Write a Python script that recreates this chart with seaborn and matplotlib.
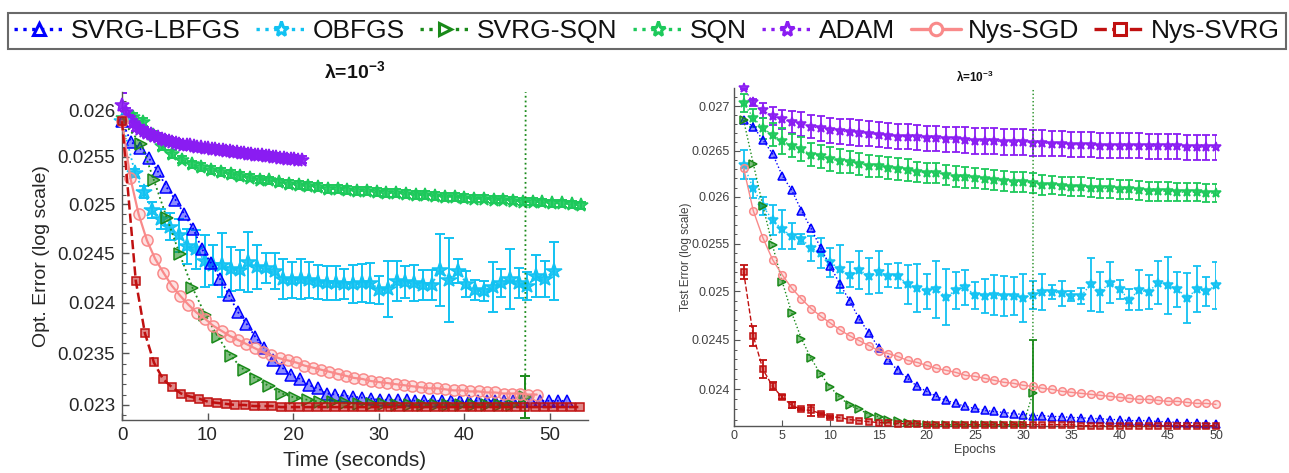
import numpy as np
import matplotlib
matplotlib.use("Agg")
import matplotlib.pyplot as plt
from matplotlib.lines import Line2D
from matplotlib.colors import to_rgba
from matplotlib.ticker import NullFormatter
import seaborn as sns

# ------------------------------------------------------------------ data
method_names = ["SVRG-LBFGS", "OBFGS", "SVRG-SQN", "SQN", "ADAM", "Nys-SGD", "Nys-SVRG"]

# Optimisation error vs wall-clock time (seconds)
adam_opt = [0.02605, 0.02598, 0.02591, 0.02586, 0.02582, 0.02580, 0.02578, 0.02575, 0.02574, 0.02572,
            0.02571, 0.02569, 0.02568, 0.02567, 0.02566, 0.02565, 0.02564, 0.02563, 0.02562, 0.02562,
            0.02561, 0.02560, 0.02560, 0.02559, 0.02559, 0.02558, 0.02558, 0.02557, 0.02557, 0.02556,
            0.02556, 0.02555, 0.02555, 0.02554, 0.02554, 0.02553, 0.02553, 0.02552, 0.02552, 0.02552,
            0.02551, 0.02551, 0.02550, 0.02550, 0.02549, 0.02549, 0.02548, 0.02548, 0.02548, 0.02547,
            0.02547]
adam_opt_err = [0.00013] + [0.00004] * 50

sqn_opt = [0.02591, 0.02593, 0.02587, 0.02573, 0.02561, 0.02553, 0.02547, 0.02542, 0.02539, 0.02536,
           0.02534, 0.02532, 0.02530, 0.02528, 0.02526, 0.02525, 0.02523, 0.02521, 0.02520, 0.02519,
           0.02518, 0.02516, 0.02516, 0.02515, 0.02514, 0.02514, 0.02513, 0.02512, 0.02512, 0.02511,
           0.02510, 0.02510, 0.02509, 0.02508, 0.02508, 0.02507, 0.02506, 0.02506, 0.02505, 0.02505,
           0.02504, 0.02503, 0.02503, 0.02502, 0.02501, 0.02501, 0.02500, 0.02499]
sqn_opt_err = [0.00004] * 48

lbfgs_opt = [0.02588, 0.02566, 0.02559, 0.02549, 0.02535, 0.02518, 0.02505, 0.02490, 0.02475, 0.02454,
             0.02440, 0.02424, 0.02408, 0.02391, 0.02379, 0.02366, 0.02355, 0.02343, 0.02336, 0.02329,
             0.02325, 0.02319, 0.02316, 0.02311, 0.02310, 0.02309, 0.02308, 0.02307, 0.02306, 0.02305,
             0.02305, 0.02305, 0.02305, 0.02304, 0.02304, 0.02304, 0.02304, 0.02304, 0.02304, 0.02304,
             0.02304, 0.02304, 0.02304, 0.02304, 0.02304, 0.02304, 0.02304, 0.02304, 0.02304, 0.02304,
             0.02304]

obfgs_opt = [0.02588, 0.02533, 0.02513, 0.02494, 0.02485, 0.02477, 0.02468, 0.02457, 0.02454, 0.02442,
             0.02438, 0.02438, 0.02434, 0.02433, 0.02441, 0.02436, 0.02435, 0.02432, 0.02424, 0.02423,
             0.02424, 0.02423, 0.02421, 0.02420, 0.02420, 0.02419, 0.02419, 0.02420, 0.02420, 0.02413,
             0.02414, 0.02422, 0.02421, 0.02420, 0.02418, 0.02418, 0.02433, 0.02423, 0.02432, 0.02419,
             0.02413, 0.02412, 0.02416, 0.02420, 0.02424, 0.02420, 0.02417, 0.02427, 0.02424, 0.02432]
obfgs_opt_err = [0.0, 0.00004, 0.00006, 0.00008, 0.00010, 0.00014, 0.00017, 0.00018, 0.00020, 0.00026,
                 0.00020, 0.00032, 0.00022, 0.00020, 0.00030, 0.00022, 0.00015, 0.00018, 0.00020, 0.00018,
                 0.00020, 0.00018, 0.00017, 0.00017, 0.00017, 0.00015, 0.00019, 0.00019, 0.00020, 0.00014,
                 0.00028, 0.00020, 0.00016, 0.00018, 0.00015, 0.00015, 0.00036, 0.00042, 0.00012, 0.00013,
                 0.00010, 0.00010, 0.00025, 0.00014, 0.00030, 0.00015, 0.00014, 0.00021, 0.00018, 0.00029]

svrgsqn_opt = [0.02588, 0.02564, 0.02525, 0.02486, 0.02449, 0.02415, 0.02388, 0.02366, 0.02347, 0.02334,
               0.02325, 0.02318, 0.02311, 0.02307, 0.02305, 0.02303, 0.02303, 0.02302, 0.02301, 0.02301,
               0.02301, 0.02300, 0.02300, 0.02300, 0.02300, 0.02300, 0.02300, 0.02300, 0.02300, 0.02300,
               0.02300, 0.02308, 1.0]
svrgsqn_opt_err = [0.0] * 31 + [0.0002, 0.0]

nysgd_opt = [0.02588, 0.02528, 0.02490, 0.02463, 0.02444, 0.02430, 0.02417, 0.02407, 0.02398, 0.02390,
             0.02384, 0.02377, 0.02372, 0.02367, 0.02363, 0.02359, 0.02355, 0.02351, 0.02348, 0.02345,
             0.02343, 0.02341, 0.02338, 0.02336, 0.02334, 0.02332, 0.02330, 0.02328, 0.02326, 0.02325,
             0.02323, 0.02322, 0.02321, 0.02320, 0.02319, 0.02318, 0.02317, 0.02316, 0.02316, 0.02315,
             0.02314, 0.02314, 0.02313, 0.02313, 0.02312, 0.02312, 0.02311, 0.02311, 0.02311, 0.02310,
             0.02310]

nysvrg_opt = [0.02588, 0.02422, 0.02370, 0.02341, 0.02325, 0.02317, 0.02311, 0.02308, 0.02306, 0.02303,
              0.02302, 0.02301, 0.02300, 0.02300, 0.02299, 0.02299, 0.02299, 0.02298, 0.02298, 0.02298,
              0.02298, 0.02298, 0.02298, 0.02298, 0.02298, 0.02298, 0.02298, 0.02298, 0.02298, 0.02298,
              0.02298, 0.02298, 0.02298, 0.02298, 0.02298, 0.02298, 0.02298, 0.02298, 0.02298, 0.02298,
              0.02298, 0.02298, 0.02298, 0.02298, 0.02298, 0.02298, 0.02298, 0.02298, 0.02298, 0.02298,
              0.02298]

# seconds spent per recorded iterate for each solver
adam_sec, sqn_sec, lbfgs_sec, obfgs_sec = 0.42, 1.14, 1.04, 1.02
nysgd_sec, nysvrg_sec, svrgsqn_sec = 0.97, 1.06, 1.497

adam_t = adam_sec * np.arange(len(adam_opt))
sqn_t = 0.15 + sqn_sec * np.arange(len(sqn_opt))
lbfgs_t = lbfgs_sec * np.arange(len(lbfgs_opt))
obfgs_t = np.r_[0.0, 0.50 + obfgs_sec * np.arange(1, len(obfgs_opt))]
nysgd_t = nysgd_sec * np.arange(len(nysgd_opt))
nysvrg_t = np.r_[0.0, 0.55 + nysvrg_sec * np.arange(1, len(nysvrg_opt))]
svrgsqn_t = np.r_[0.0, 0.75 + svrgsqn_sec * np.arange(1, len(svrgsqn_opt))]

# Test error vs epochs
epochs = np.arange(1, 51)

adam_test = [0.02720, 0.02704, 0.02695, 0.02689, 0.02685, 0.02682, 0.02680, 0.02677, 0.02675, 0.02673,
             0.02672, 0.02671, 0.02670, 0.02669, 0.02668, 0.02667, 0.02666, 0.02666, 0.02665, 0.02664,
             0.02664, 0.02663, 0.02663, 0.02662, 0.02661, 0.02661, 0.02661, 0.02660, 0.02660, 0.02660,
             0.02659, 0.02659, 0.02658, 0.02658, 0.02657, 0.02657, 0.02657, 0.02656, 0.02656, 0.02656,
             0.02656, 0.02656, 0.02655, 0.02655, 0.02655, 0.02655, 0.02654, 0.02654, 0.02654, 0.02654]
adam_test_err = [0.00001, 0.00004, 0.00008, 0.00010, 0.00011, 0.00012, 0.00013, 0.00013, 0.00014, 0.00014,
                 0.00014, 0.00014, 0.00014, 0.00014, 0.00014, 0.00014, 0.00014, 0.00014, 0.00014, 0.00014,
                 0.00014, 0.00014, 0.00014, 0.00014, 0.00014, 0.00014, 0.00014, 0.00014, 0.00014, 0.00014,
                 0.00014, 0.00014, 0.00014, 0.00014, 0.00014, 0.00014, 0.00014, 0.00014, 0.00014, 0.00014,
                 0.00014, 0.00014, 0.00014, 0.00014, 0.00014, 0.00014, 0.00014, 0.00014, 0.00014, 0.00014]

sqn_test = [0.02703, 0.02687, 0.02675, 0.02668, 0.02661, 0.02656, 0.02652, 0.02646, 0.02644, 0.02641,
            0.02639, 0.02638, 0.02636, 0.02634, 0.02633, 0.02631, 0.02630, 0.02629, 0.02627, 0.02626,
            0.02626, 0.02624, 0.02622, 0.02621, 0.02620, 0.02619, 0.02618, 0.02617, 0.02616, 0.02616,
            0.02615, 0.02613, 0.02613, 0.02612, 0.02611, 0.02611, 0.02610, 0.02609, 0.02609, 0.02608,
            0.02608, 0.02607, 0.02606, 0.02606, 0.02606, 0.02605, 0.02605, 0.02605, 0.02604, 0.02604]
sqn_test_err = [0.00010, 0.00010, 0.00012, 0.00013, 0.00014, 0.00013, 0.00013, 0.00013, 0.00013, 0.00013,
                0.00013, 0.00012, 0.00012, 0.00012, 0.00012, 0.00012, 0.00012, 0.00012, 0.00011, 0.00011,
                0.00011, 0.00011, 0.00011, 0.00011, 0.00011, 0.00011, 0.00011, 0.00011, 0.00011, 0.00011,
                0.00011, 0.00011, 0.00010, 0.00010, 0.00010, 0.00010, 0.00010, 0.00010, 0.00010, 0.00010,
                0.00010, 0.00010, 0.00010, 0.00010, 0.00010, 0.00010, 0.00010, 0.00010, 0.00010, 0.00010]

lbfgs_test = [0.02684, 0.02677, 0.02662, 0.02647, 0.02623, 0.02607, 0.02585, 0.02566, 0.02545, 0.02526,
              0.02507, 0.02490, 0.02471, 0.02457, 0.02442, 0.02429, 0.02419, 0.02411, 0.02403, 0.02398,
              0.02393, 0.02389, 0.02386, 0.02383, 0.02381, 0.02379, 0.02378, 0.02377, 0.02376, 0.02375,
              0.02374, 0.02374, 0.02373, 0.02373, 0.02372, 0.02372, 0.02371, 0.02371, 0.02370, 0.02370,
              0.02369, 0.02369, 0.02369, 0.02368, 0.02368, 0.02367, 0.02367, 0.02367, 0.02366, 0.02366]

obfgs_test = [0.02635, 0.02609, 0.02590, 0.02575, 0.02565, 0.02558, 0.02555, 0.02545, 0.02540, 0.02530,
              0.02523, 0.02517, 0.02522, 0.02516, 0.02520, 0.02516, 0.02516, 0.02507, 0.02503, 0.02500,
              0.02502, 0.02494, 0.02501, 0.02504, 0.02496, 0.02495, 0.02496, 0.02495, 0.02495, 0.02493,
              0.02496, 0.02499, 0.02499, 0.02498, 0.02495, 0.02495, 0.02507, 0.02499, 0.02509, 0.02502,
              0.02491, 0.02501, 0.02499, 0.02509, 0.02506, 0.02502, 0.02493, 0.02502, 0.02500, 0.02506]
obfgs_test_err = [0.00016, 0.00010, 0.00010, 0.00016, 0.00021, 0.00014, 0.00005, 0.00013, 0.00016, 0.00015,
                  0.00025, 0.00013, 0.00020, 0.00019, 0.00022, 0.00012, 0.00013, 0.00020, 0.00025, 0.00018,
                  0.00030, 0.00029, 0.00019, 0.00018, 0.00014, 0.00018, 0.00021, 0.00021, 0.00020, 0.00025,
                  0.00015, 0.00019, 0.00007, 0.00013, 0.00005, 0.00008, 0.00028, 0.00021, 0.00021, 0.00010,
                  0.00011, 0.00021, 0.00018, 0.00022, 0.00030, 0.00018, 0.00026, 0.00024, 0.00015, 0.00024]

svrgsqn_test = [0.02684, 0.02636, 0.02590, 0.02548, 0.02510, 0.02477, 0.02451, 0.02431, 0.02415, 0.02402,
                0.02392, 0.02384, 0.02380, 0.02375, 0.02373, 0.02370, 0.02369, 0.02367, 0.02366, 0.02365,
                0.02365, 0.02365, 0.02365, 0.02365, 0.02365, 0.02365, 0.02365, 0.02365, 0.02365, 0.02365,
                0.02396, 1.0]
svrgsqn_test_err = [0.0] * 30 + [0.00054, 0.0]

nysgd_test = [0.02631, 0.02585, 0.02556, 0.02533, 0.02517, 0.02503, 0.02492, 0.02482, 0.02474, 0.02467,
              0.02460, 0.02454, 0.02449, 0.02444, 0.02439, 0.02436, 0.02433, 0.02429, 0.02427, 0.02424,
              0.02421, 0.02419, 0.02417, 0.02414, 0.02413, 0.02411, 0.02409, 0.02407, 0.02406, 0.02404,
              0.02403, 0.02401, 0.02400, 0.02398, 0.02397, 0.02396, 0.02395, 0.02394, 0.02393, 0.02392,
              0.02391, 0.02390, 0.02390, 0.02389, 0.02388, 0.02388, 0.02387, 0.02386, 0.02386, 0.02385]

nysvrg_test = [0.02520, 0.02454, 0.02420, 0.02403, 0.02392, 0.02384, 0.02380, 0.02379, 0.02376, 0.02373,
               0.02372, 0.02370, 0.02369, 0.02368, 0.02367, 0.02367, 0.02366, 0.02366, 0.02366, 0.02365,
               0.02365, 0.02365, 0.02365, 0.02365, 0.02365, 0.02365, 0.02365, 0.02365, 0.02365, 0.02365,
               0.02365, 0.02365, 0.02365, 0.02365, 0.02365, 0.02364, 0.02364, 0.02364, 0.02364, 0.02364,
               0.02364, 0.02364, 0.02364, 0.02364, 0.02364, 0.02364, 0.02364, 0.02364, 0.02364, 0.02364]
nysvrg_test_err = [0.00007, 0.00010, 0.00009, 0.00004, 0.00002, 0.00003, 0.00001, 0.00005, 0.00001, 0.00001] + [0.0] * 40

opt_ticks = [0.023, 0.0235, 0.024, 0.0245, 0.025, 0.0255, 0.026]
opt_tick_labels = ["0.023", "0.0235", "0.024", "0.0245", "0.025", "0.0255", "0.026"]
test_ticks = [0.024, 0.0245, 0.025, 0.0255, 0.026, 0.0265, 0.027]
test_tick_labels = ["0.024", "0.0245", "0.025", "0.0255", "0.026", "0.0265", "0.027"]

# ------------------------------------------------------------------ style
sns.set_theme(style="white")
plt.rcParams["font.family"] = ["Liberation Sans", "DejaVu Sans"]
plt.rcParams["mathtext.fontset"] = "custom"
plt.rcParams["mathtext.rm"] = "Liberation Sans"
plt.rcParams["mathtext.bf"] = "Liberation Sans:bold"

styles = {
    "SVRG-LBFGS": dict(color="#0000FF", ls=":", marker="^", face=0.45),
    "OBFGS":      dict(color="#12C2F2", ls=":", marker="*", face=0.9),
    "SVRG-SQN":   dict(color="#1A8A1A", ls=":", marker=">", face=0.55),
    "SQN":        dict(color="#1DC95B", ls=":", marker="*", face=0.9),
    "ADAM":       dict(color="#8A1CF2", ls=":", marker="*", face=0.9),
    "Nys-SGD":    dict(color="#F98A8A", ls="-", marker="o", face=0.25),
    "Nys-SVRG":   dict(color="#C01010", ls="--", marker="s", face=0.5),
}

W, H = 1289, 473
fig = plt.figure(figsize=(W / 100, H / 100), dpi=100)
fig.patch.set_facecolor("white")

ax_l = fig.add_axes([122 / W, 1 - 420 / H, (588 - 122) / W, (420 - 92) / H])
ax_r = fig.add_axes([734 / W, 1 - 426 / H, (1216 - 734) / W, (426 - 88) / H])
for ax in (ax_l, ax_r):
    ax.set_yscale("log")
    ax.set_facecolor("none")


def draw(ax, name, x, y, err=None, ms=7, lw=1.3, clip=False, z=2, elw=1.4, cap=3.5):
    st = styles[name]
    c = st["color"]
    x = np.asarray(x, float)
    y = np.asarray(y, float)
    sns.lineplot(x=x, y=y, ax=ax, estimator=None, sort=False, legend=False,
                 color=c, linestyle=st["ls"], linewidth=lw,
                 marker=st["marker"], markersize=ms,
                 markerfacecolor=to_rgba(c, st["face"]), markeredgecolor=c,
                 markeredgewidth=1.1, clip_on=clip, zorder=z)
    if err is not None:
        e = np.asarray(err, float)
        keep = e > 0
        ax.errorbar(x[keep], y[keep], yerr=e[keep], fmt="none", ecolor=c,
                    elinewidth=elw, capsize=cap, capthick=elw, zorder=z - 0.5)


# ---- left: optimisation error vs time
draw(ax_l, "SQN", sqn_t, sqn_opt, sqn_opt_err, ms=10.5, z=2)
draw(ax_l, "ADAM", adam_t, adam_opt, adam_opt_err, ms=10.5, z=3)
draw(ax_l, "OBFGS", obfgs_t, obfgs_opt, obfgs_opt_err, ms=11.5, z=4)
draw(ax_l, "SVRG-LBFGS", lbfgs_t, lbfgs_opt, ms=8, z=5)
draw(ax_l, "SVRG-SQN", svrgsqn_t, svrgsqn_opt, svrgsqn_opt_err, ms=8, clip=True, z=6)
draw(ax_l, "Nys-SGD", nysgd_t, nysgd_opt, ms=8, lw=1.6, z=7)
draw(ax_l, "Nys-SVRG", nysvrg_t, nysvrg_opt, ms=5.8, lw=1.8, z=8)

# ---- right: test error vs epochs
kw_r = dict(lw=1.0, elw=1.3, cap=2.6)
draw(ax_r, "ADAM", epochs, adam_test, adam_test_err, ms=7.5, z=2, **kw_r)
draw(ax_r, "SQN", epochs, sqn_test, sqn_test_err, ms=7.5, z=3, **kw_r)
draw(ax_r, "OBFGS", epochs, obfgs_test, obfgs_test_err, ms=7.5, z=4, **kw_r)
draw(ax_r, "SVRG-LBFGS", epochs, lbfgs_test, ms=5.5, z=5, **kw_r)
draw(ax_r, "SVRG-SQN", np.arange(1, len(svrgsqn_test) + 1), svrgsqn_test, svrgsqn_test_err,
     ms=5.5, clip=True, z=6, **kw_r)
draw(ax_r, "Nys-SGD", epochs, nysgd_test, ms=5.5, z=7, **kw_r)
draw(ax_r, "Nys-SVRG", epochs, nysvrg_test, nysvrg_test_err, ms=4.2, z=8, **kw_r)

# ---- axes cosmetics
spine_c = "#555555"
for ax in (ax_l, ax_r):
    for s in ("top", "right"):
        ax.spines[s].set_visible(False)
    for s in ("left", "bottom"):
        ax.spines[s].set_color(spine_c)
        ax.spines[s].set_linewidth(1.0)
    ax.tick_params(which="both", direction="in", color=spine_c, left=True, bottom=True)
    ax.yaxis.set_minor_formatter(NullFormatter())

ax_l.set_xlim(0, 54.5)
ax_l.set_ylim(0.022857, 0.026196)
ax_l.set_xticks([0, 10, 20, 30, 40, 50])
ax_l.set_yticks(opt_ticks, opt_tick_labels)
ax_l.set_yticks(np.arange(0.0229, 0.02615, 0.0001), minor=True)
ax_l.tick_params(which="major", length=5, width=1, labelsize=13.5, labelcolor="#262626", pad=5)
ax_l.tick_params(which="minor", length=3, width=0.8)
ax_l.set_xlabel("Time (seconds)", fontsize=15, color="#262626")
ax_l.set_ylabel("Opt. Error (log scale)", fontsize=14, color="#262626")
ax_l.xaxis.set_label_coords(0.5, -0.095)
ax_l.yaxis.set_label_coords(-0.155, 0.5)

ax_r.set_xlim(0, 50)
ax_r.set_ylim(0.023637, 0.027203)
ax_r.set_xticks(np.arange(0, 51, 5))
ax_r.set_yticks(test_ticks, test_tick_labels)
ax_r.set_yticks(np.arange(0.0237, 0.02720, 0.0001), minor=True)
ax_r.tick_params(which="major", length=4, width=0.8, labelsize=9, labelcolor="#404040", pad=3)
ax_r.tick_params(which="minor", length=2.5, width=0.7)
ax_r.set_xlabel("Epochs", fontsize=9, color="#404040")
ax_r.set_ylabel("Test Error (log scale)", fontsize=8.5, color="#404040")
ax_r.xaxis.set_label_coords(0.5, -0.052)
ax_r.yaxis.set_label_coords(-0.088, 0.5)

fig.text(355 / W, 1 - 72 / H, r"λ=10$^{\mathbf{-3}}$", ha="center", va="center",
         fontsize=14, fontweight="bold", color="#111111")
fig.text(975 / W, 1 - 77 / H, r"λ=10$^{\mathbf{-3}}$", ha="center", va="center",
         fontsize=8.5, fontweight="bold", color="#111111")

# ---- shared legend along the top
handles = []
for name in method_names:
    st = styles[name]
    handles.append(Line2D([0], [0], color=st["color"], linestyle=st["ls"], linewidth=2.4,
                          marker=st["marker"], markersize=11 if st["marker"] == "*" else 9,
                          markerfacecolor="white", markeredgecolor=st["color"], markeredgewidth=2.2))
leg = fig.legend(handles, method_names, loc="lower left",
                 bbox_to_anchor=(8 / W, 1 - 49 / H, 1278 / W, 39 / H), mode="expand",
                 ncol=7, frameon=True, fancybox=False, edgecolor="#444444", fontsize=19,
                 handlelength=1.9, handletextpad=0.25, columnspacing=0.6,
                 borderpad=0.22, borderaxespad=0)
leg.get_frame().set_linewidth(1.5)
for t in leg.get_texts():
    t.set_color("#111111")

fig.savefig("out.png", dpi=100, facecolor="white")
